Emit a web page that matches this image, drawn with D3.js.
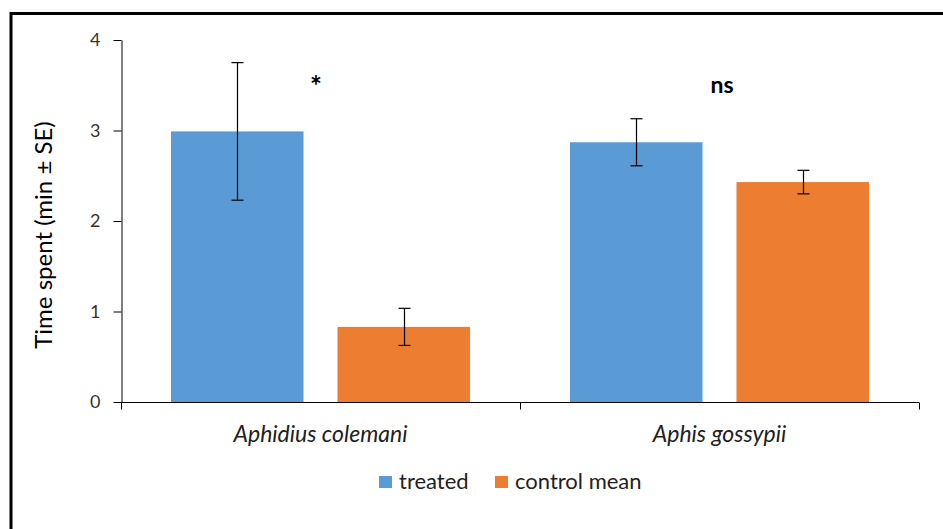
<!DOCTYPE html>
<html>
<head>
<meta charset="utf-8">
<script src="https://cdn.jsdelivr.net/npm/d3@7"></script>
<style>
  html, body { margin: 0; padding: 0; background: #fff; }
  svg { display: block; }
</style>
</head>
<body>
<svg id="chart" width="943" height="529"></svg>
<script>
// Data
const categories = ["Aphidius colemani", "Aphis gossypii"];
const seriesNames = ["treated", "control mean"];
const treatedMeans = [2.99, 2.87];
const treatedSE = [0.76, 0.26];
const controlMeans = [0.83, 2.43];
const controlSE = [0.205, 0.13];
const significance = ["*", "ns"];
const yTicks = [0, 1, 2, 3, 4];
const colors = ["#5B9BD5", "#ED7D31"];

const svg = d3.select("#chart");
const font = "Lato, 'Open Sans', sans-serif";

// Outer frame
svg.append("rect")
  .attr("x", 11).attr("y", 13.5)
  .attr("width", 960).attr("height", 560)
  .attr("fill", "none").attr("stroke", "#000").attr("stroke-width", 3);

const plot = { left: 121, right: 919, top: 40, bottom: 402 };

const x0 = d3.scaleBand().domain(categories)
  .range([plot.left, plot.right]).paddingInner(0).paddingOuter(0);
const x1 = d3.scaleBand().domain(seriesNames)
  .range([0, x0.bandwidth()]).paddingInner(0.204).paddingOuter(0.3);
const y = d3.scaleLinear().domain([0, 4]).range([plot.bottom, plot.top]);

const rows = categories.map((c, i) => ({
  cat: c,
  sig: significance[i],
  vals: [
    { s: seriesNames[0], v: treatedMeans[i], se: treatedSE[i], c: colors[0] },
    { s: seriesNames[1], v: controlMeans[i], se: controlSE[i], c: colors[1] }
  ]
}));

// Bars
const g = svg.selectAll("g.cat").data(rows).enter().append("g")
  .attr("class", "cat")
  .attr("transform", d => `translate(${x0(d.cat)},0)`);

g.selectAll("rect").data(d => d.vals).enter().append("rect")
  .attr("x", d => x1(d.s))
  .attr("width", x1.bandwidth())
  .attr("y", d => y(d.v))
  .attr("height", d => y(0) - y(d.v))
  .attr("fill", d => d.c);

// Error bars
const capHalf = 6;
g.selectAll("g.err").data(d => d.vals).enter().append("g")
  .attr("class", "err")
  .each(function(d) {
    const cx = Math.round(x1(d.s) + x1.bandwidth() / 2) + 0.5;
    const top = y(d.v + d.se), bot = y(d.v - d.se);
    const e = d3.select(this);
    e.append("line").attr("x1", cx).attr("x2", cx).attr("y1", top).attr("y2", bot);
    e.append("line").attr("x1", cx - capHalf).attr("x2", cx + capHalf).attr("y1", top).attr("y2", top);
    e.append("line").attr("x1", cx - capHalf).attr("x2", cx + capHalf).attr("y1", bot).attr("y2", bot);
  })
  .selectAll("line").attr("stroke", "#000").attr("stroke-width", 1.2);

// Significance labels
svg.selectAll("text.sig").data(rows).enter().append("text")
  .attr("class", "sig")
  .attr("x", (d, i) => i === 0 ? 316 : 722)
  .attr("y", (d, i) => i === 0 ? 96 : 93)
  .attr("text-anchor", "middle")
  .attr("font-family", font)
  .attr("font-weight", "bold")
  .attr("font-size", (d, i) => i === 0 ? 28 : 23)
  .text(d => d.sig);

// Y axis
const yAxis = svg.append("g")
  .attr("transform", `translate(${plot.left + 0.5},0)`)
  .call(d3.axisLeft(y).tickValues(yTicks).tickFormat(d3.format("d")).tickSize(8).tickSizeOuter(0));
yAxis.select(".domain").attr("stroke", "#000");
yAxis.selectAll(".tick line").attr("stroke", "#000");
yAxis.selectAll(".tick text")
  .attr("font-family", font).attr("font-size", 18).attr("fill", "#333").attr("x", -21);

// X axis
const xAxis = svg.append("g")
  .attr("transform", `translate(0,${plot.bottom + 0.5})`);
xAxis.append("line")
  .attr("x1", plot.left).attr("x2", plot.right)
  .attr("stroke", "#000");
const boundaries = [plot.left].concat(categories.map(c => x0(c) + x0.bandwidth()));
xAxis.selectAll("line.tk").data(boundaries).enter().append("line")
  .attr("class", "tk")
  .attr("x1", d => Math.round(d) + 0.5).attr("x2", d => Math.round(d) + 0.5)
  .attr("y1", 0).attr("y2", 7)
  .attr("stroke", "#000");
xAxis.selectAll("text").data(categories).enter().append("text")
  .attr("x", d => x0(d) + x0.bandwidth() / 2)
  .attr("y", 39)
  .attr("text-anchor", "middle")
  .attr("font-family", font).attr("font-style", "italic")
  .attr("font-size", 23).attr("fill", "#222")
  .text(d => d);

// Y axis title
svg.append("text")
  .attr("transform", `translate(52,235) rotate(-90)`)
  .attr("text-anchor", "middle")
  .attr("font-family", font).attr("font-size", 24).attr("fill", "#000")
  .text("Time spent (min ± SE)");

// Legend
const legendX = [379, 495];
const legend = svg.selectAll("g.leg").data(seriesNames).enter().append("g")
  .attr("class", "leg")
  .attr("transform", (d, i) => `translate(${legendX[i]},476)`);
legend.append("rect").attr("width", 13).attr("height", 12)
  .attr("fill", (d, i) => colors[i]);
legend.append("text").attr("x", 20).attr("y", 13)
  .attr("font-family", font).attr("font-size", 22).attr("fill", "#222")
  .text(d => d);
</script>
</body>
</html>
